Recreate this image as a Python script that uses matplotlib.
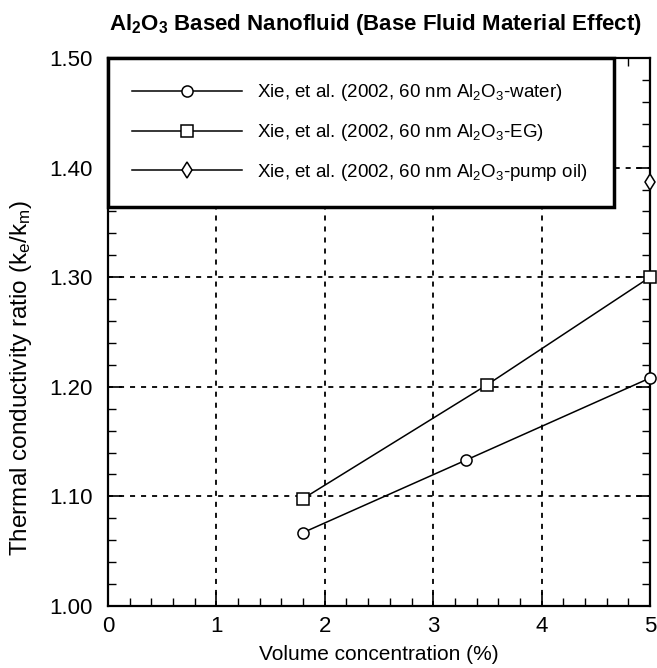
import numpy as np
import matplotlib
matplotlib.use('Agg')
import matplotlib.pyplot as plt
import matplotlib.ticker as plticker

# Xie et al. (2002), 60 nm Al2O3 in three base fluids
water_conc = [1.8, 3.3, 5.0]
water_ratio = [1.067, 1.133, 1.208]
eg_conc = [1.8, 3.5, 5.0]
eg_ratio = [1.098, 1.202, 1.300]
oil_conc = [5.0]
oil_ratio = [1.387]

series_labels = [r'Xie, et al. (2002, 60 nm Al$_2$O$_3$-water)',
                 r'Xie, et al. (2002, 60 nm Al$_2$O$_3$-EG)',
                 r'Xie, et al. (2002, 60 nm Al$_2$O$_3$-pump oil)']

plt.rcParams['font.family'] = ['Liberation Sans', 'DejaVu Sans']
plt.rcParams['mathtext.fontset'] = 'custom'
plt.rcParams['mathtext.rm'] = 'Liberation Sans'
plt.rcParams['mathtext.it'] = 'Liberation Sans:italic'
plt.rcParams['mathtext.bf'] = 'Liberation Sans:bold'

fig = plt.figure(figsize=(6.57, 6.68), dpi=100)
ax = fig.add_axes([0.1644, 0.0928, 0.8249, 0.8204])

line_kw = dict(color='k', linewidth=1.1, markersize=8, markerfacecolor='white',
               markeredgecolor='k', markeredgewidth=1.1, clip_on=False, zorder=3)
ax.plot(water_conc, water_ratio, marker='o', label=series_labels[0], **line_kw)
ax.plot(eg_conc, eg_ratio, marker='s', label=series_labels[1], **line_kw)
ax.plot(oil_conc, oil_ratio, marker='d', label=series_labels[2], **line_kw)

ax.set_xlim(0, 5)
ax.set_ylim(1.0, 1.5)
ax.xaxis.set_major_locator(plticker.MultipleLocator(1))
ax.xaxis.set_minor_locator(plticker.MultipleLocator(0.2))
ax.yaxis.set_major_locator(plticker.MultipleLocator(0.1))
ax.yaxis.set_minor_locator(plticker.MultipleLocator(0.02))
ax.yaxis.set_major_formatter(plticker.FormatStrFormatter('%.2f'))

ax.tick_params(which='both', direction='in', top=True, right=True, colors='k')
ax.tick_params(which='major', length=10, width=1.2, labelsize=16)
ax.tick_params(axis='y', which='major', pad=11)
ax.tick_params(axis='x', which='major', pad=7)
ax.tick_params(which='minor', length=6, width=1.0)

for s in ax.spines.values():
    s.set_linewidth(1.6)

ax.grid(True, which='major', color='k', linestyle=(0, (2.8, 3.3)), linewidth=1.3)

fig.text(0.571, 1 - 30 / 668,
         r'Al$_\mathbf{2}$O$_\mathbf{3}$ Based Nanofluid (Base Fluid Material Effect)',
         fontsize=16, fontweight='bold', ha='center', va='baseline')
ax.set_xlabel('Volume concentration (%)', fontsize=15, labelpad=6)
ax.set_ylabel(r'Thermal conductivity ratio (k$_\mathrm{e}$/k$_\mathrm{m}$)', fontsize=17.5)
ax.yaxis.set_label_coords(-0.137, 0.416)

leg = ax.legend(loc='upper left', bbox_to_anchor=(0.0, 0.0, 0.934, 1.0), mode='expand',
                borderaxespad=0, fontsize=13.5, handlelength=5.87, handletextpad=0.75,
                borderpad=1.3, labelspacing=1.0, fancybox=False, framealpha=1)
leg.get_frame().set_edgecolor('k')
leg.get_frame().set_linewidth(2.5)
leg.set_zorder(5)

plt.savefig('out.png', dpi=100)
